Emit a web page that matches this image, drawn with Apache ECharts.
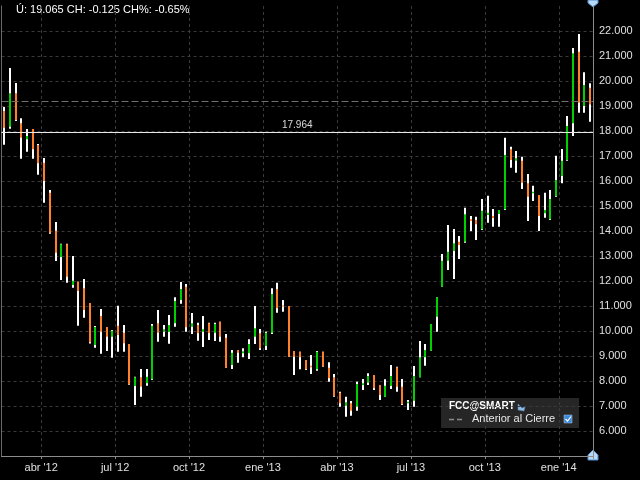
<!DOCTYPE html>
<html>
<head>
<meta charset="utf-8">
<script src="https://cdn.jsdelivr.net/npm/echarts@6/dist/echarts.min.js"></script>
<style>
html,body{margin:0;padding:0;background:#000;}
#c{width:640px;height:480px;}
</style>
</head>
<body>
<div id="c"></div>
<script>
// Weekly bars (week ending Friday)
var dates = [
'2012-02-17','2012-02-24','2012-03-02','2012-03-09','2012-03-16','2012-03-23','2012-03-30',
'2012-04-06','2012-04-13','2012-04-20','2012-04-27','2012-05-04','2012-05-11','2012-05-18','2012-05-25',
'2012-06-01','2012-06-08','2012-06-15','2012-06-22','2012-06-29','2012-07-06','2012-07-13','2012-07-20','2012-07-27',
'2012-08-03','2012-08-10','2012-08-17','2012-08-24','2012-08-31','2012-09-07','2012-09-14','2012-09-21','2012-09-28',
'2012-10-05','2012-10-12','2012-10-19','2012-10-26','2012-11-02','2012-11-09','2012-11-16','2012-11-23','2012-11-30',
'2012-12-07','2012-12-14','2012-12-21','2012-12-28','2013-01-04','2013-01-11','2013-01-18','2013-01-25',
'2013-02-01','2013-02-08','2013-02-15','2013-02-22','2013-03-01','2013-03-08','2013-03-15','2013-03-22','2013-03-29',
'2013-04-05','2013-04-12','2013-04-19','2013-04-26','2013-05-03','2013-05-10','2013-05-17','2013-05-24','2013-05-31',
'2013-06-07','2013-06-14','2013-06-21','2013-06-28','2013-07-05','2013-07-12','2013-07-19','2013-07-26',
'2013-08-02','2013-08-09','2013-08-16','2013-08-23','2013-08-30','2013-09-06','2013-09-13','2013-09-20','2013-09-27',
'2013-10-04','2013-10-11','2013-10-18','2013-10-25','2013-11-01','2013-11-08','2013-11-15','2013-11-22','2013-11-29',
'2013-12-06','2013-12-13','2013-12-20','2013-12-27','2014-01-03','2014-01-10','2014-01-17','2014-01-24','2014-01-31',
'2014-02-07'
];
var opens = [18.80,18.17,19.51,18.31,17.67,18.08,17.44,16.73,15.53,14.01,12.96,13.47,11.84,11.97,11.71,11.12,9.44,10.60,10.16,9.77,
10.21,9.93,9.48,7.80,8.15,7.91,8.07,10.31,9.97,9.96,10.31,11.24,11.77,10.17,10.24,9.97,10.31,9.93,10.37,9.73,
8.64,9.24,9.11,9.11,9.77,9.91,9.40,9.93,11.67,11.02,11.00,9.20,9.17,8.84,8.61,8.47,9.17,8.53,8.15,7.53,
7.01,7.11,6.97,7.84,7.93,8.24,7.84,7.37,7.80,8.55,7.77,7.11,7.21,8.15,8.95,9.21,10.57,11.77,12.81,13.20,
13.57,13.57,14.47,14.44,14.07,14.64,14.60,14.68,14.87,17.27,16.81,16.81,15.91,15.51,15.44,14.71,14.47,15.40,16.20,16.84,
18.31,21.17,19.00,19.73];
var highs = [18.96,20.52,19.92,18.51,18.08,18.08,17.48,16.92,15.64,14.36,13.49,13.49,13.00,11.97,12.08,11.12,10.20,10.88,10.16,10.04,
11.01,10.24,9.48,8.17,8.48,8.48,10.28,10.84,10.24,10.64,11.35,11.96,11.88,10.72,10.33,10.60,10.33,10.33,10.37,9.88,
9.24,9.24,9.31,9.67,11.00,10.08,9.97,11.71,11.93,11.24,11.00,9.20,9.17,8.84,9.04,9.20,9.17,8.75,8.28,7.57,
7.37,7.20,7.97,8.08,8.31,8.24,7.84,8.07,8.64,8.57,8.08,7.24,8.60,9.60,9.48,10.28,11.35,13.08,14.24,14.08,
13.80,14.93,14.60,14.57,15.28,15.41,14.88,14.84,17.73,17.37,17.20,16.97,16.28,15.81,15.44,15.53,15.64,17.01,17.28,18.60,
21.32,21.88,20.35,19.91];
var lows = [17.45,18.09,18.40,16.89,17.17,16.89,16.25,15.13,13.89,12.80,12.04,11.93,11.73,10.21,10.53,9.50,9.33,9.09,9.20,8.93,
9.17,9.17,7.85,7.04,7.37,7.81,8.04,9.57,9.77,9.49,10.17,11.09,9.97,9.88,9.61,9.36,9.64,9.60,9.57,8.53,
8.48,8.73,8.95,8.88,9.48,9.24,9.24,9.88,10.73,10.77,8.97,8.24,8.47,8.44,8.28,8.41,8.57,7.97,7.37,6.97,
6.57,6.61,6.81,7.64,7.84,7.64,7.24,7.37,7.68,7.57,7.04,6.84,6.97,8.15,8.61,9.21,9.97,11.77,12.44,12.08,
12.88,13.53,14.00,13.64,14.04,14.33,14.17,14.17,14.84,16.53,16.33,15.68,14.40,15.20,14.00,14.53,14.44,15.37,15.91,16.81,
17.80,18.73,18.73,18.37];
var closes = [18.13,19.51,18.44,17.73,17.80,17.27,16.71,16.00,13.93,13.13,13.47,12.17,12.01,11.60,10.84,9.55,10.16,9.97,9.77,10.01,
9.84,9.51,7.87,8.15,7.77,8.17,10.21,9.93,10.07,10.24,11.20,11.68,10.15,10.31,9.91,10.07,9.91,10.28,9.77,8.53,
9.13,9.13,9.19,9.48,10.11,9.31,9.93,11.48,10.91,10.98,8.97,8.97,8.95,8.47,8.55,9.17,8.57,8.11,7.40,7.11,
7.15,6.81,7.88,7.91,8.20,7.71,7.44,7.81,8.20,7.77,7.07,7.17,8.20,8.95,9.24,10.28,11.35,12.81,13.17,13.51,
13.44,14.67,14.40,14.27,14.81,14.73,14.52,14.84,17.04,16.84,16.91,15.93,15.37,15.57,14.60,14.84,15.28,16.04,16.81,18.20,
21.11,19.13,19.84,19.065];
var prevClose = 19.19;
var levelLine = 17.964;
var headerText = 'Ú: 19.065 CH: -0.125 CH%: -0.65%';
var monthNames = ['ene','feb','mar','abr','may','jun','jul','ago','sep','oct','nov','dic'];
var symbolName = 'FCC@SMART';
var legendName = 'Anterior al Cierre';

function monthOf(i){ return parseInt(dates[i].substr(5,2),10)-1; }
function isQuarterStart(i){
  if (i <= 0) return false;
  var m = monthOf(i);
  return m !== monthOf(i-1) && m % 3 === 0;
}

var seriesData = dates.map(function(d,i){ return [i, opens[i], closes[i], lows[i], highs[i]]; });

var chart = echarts.init(document.getElementById('c'), null, {renderer:'canvas'});
var gridColor = '#3a3a3a';
chart.setOption({
  backgroundColor: '#000',
  animation: false,
  grid: {left: 1.5, right: 47, top: 6, bottom: 24, containLabel: false},
  xAxis: {
    type: 'category',
    data: dates,
    boundaryGap: true,
    axisLine: {show: true, lineStyle: {color: '#8c8c8c', width: 1}},
    axisTick: {show: true, length: 3, interval: function(i){ return isQuarterStart(i); }, lineStyle: {color: '#8c8c8c'}},
    axisLabel: {
      show: true,
      interval: function(i){ return isQuarterStart(i); },
      formatter: function(v){ var m = parseInt(v.substr(5,2),10)-1; return monthNames[m] + " '" + v.substr(2,2); },
      color: '#e0e0e0', fontSize: 11, fontFamily: 'Liberation Sans, Arial, sans-serif',
      margin: 6, padding: [0, 6, 0, 0]
    },
    splitLine: {show: true, interval: function(i){ return isQuarterStart(i); }, lineStyle: {color: gridColor, type: [3,3], width: 1}}
  },
  yAxis: [{
    type: 'value',
    position: 'right',
    min: 5, max: 23, interval: 1,
    axisLine: {show: true, lineStyle: {color: '#8c8c8c', width: 1}},
    axisTick: {show: false},
    axisLabel: {
      color: '#e0e0e0', fontSize: 11, fontFamily: 'Liberation Sans, Arial, sans-serif', margin: 6,
      formatter: function(v){ return (v < 6 || v > 22) ? '' : v.toFixed(3); }
    },
    splitLine: {show: true, showMaxLine: false, lineStyle: {color: gridColor, type: [3,3], width: 1}}
  },{
    type: 'value',
    position: 'left',
    min: 5, max: 23,
    axisLine: {show: true, onZero: false, lineStyle: {color: '#6a6a6a', width: 1}},
    axisTick: {show: false},
    axisLabel: {show: false},
    splitLine: {show: false}
  }],
  series: [{
    type: 'custom',
    yAxisIndex: 0,
    data: seriesData,
    encode: {x: 0, y: [1,2,3,4]},
    renderItem: function(params, api){
      var i = api.value(0);
      var po = api.coord([i, api.value(1)]);
      var pc = api.coord([i, api.value(2)]);
      var pl = api.coord([i, api.value(3)]);
      var ph = api.coord([i, api.value(4)]);
      var up = api.value(2) >= api.value(1);
      var cx = Math.round(po[0]);
      var top = Math.min(po[1], pc[1]);
      var h = Math.max(Math.abs(pc[1] - po[1]), 1);
      return {type: 'group', children: [
        {type: 'rect', shape: {x: cx - 1, y: ph[1], width: 2, height: pl[1] - ph[1]}, style: {fill: '#ffffff'}},
        {type: 'rect', shape: {x: cx - 1, y: top, width: 2, height: h}, style: {fill: up ? '#00d000' : '#ff8028'}}
      ]};
    },
    markLine: {
      symbol: 'none', silent: true, animation: false,
      data: [
        {yAxis: prevClose, lineStyle: {type: [7,3], color: '#6e6e6e', width: 1}, label: {show: false}},
        {yAxis: levelLine, lineStyle: {type: 'solid', color: '#e8e8e8', width: 1},
         label: {show: true, position: 'insideMiddleTop', formatter: levelLine.toFixed(3), color: '#dcdcdc', fontSize: 10, fontFamily: 'Liberation Sans, Arial, sans-serif', distance: 2}}
      ]
    }
  }],
  graphic: [
    {type: 'text', left: 16, top: 4, style: {text: headerText, fill: '#ffffff', font: '11px "Liberation Sans", Arial, sans-serif'}},
    // extend right axis line to the top edge
    {type: 'line', shape: {x1: 593.5, y1: 0, x2: 593.5, y2: 6}, style: {stroke: '#8c8c8c', lineWidth: 1}},
    // top/bottom axis handles
    {type: 'polygon', shape: {points: [[588,0],[598,0],[598,3],[593,7],[588,3]]}, style: {fill: '#b8d8f4', stroke: '#4a8ed6', lineWidth: 1}},
    {type: 'polygon', shape: {points: [[588,460],[598,460],[598,455],[593,450],[588,455]]}, style: {fill: '#b8d8f4', stroke: '#4a8ed6', lineWidth: 1}},
    // legend box
    {type: 'group', left: 441, top: 398, children: [
      {type: 'rect', shape: {x: 0, y: 0, width: 138, height: 30}, style: {fill: '#262626'}},
      {type: 'text', x: 8, y: 3, style: {text: symbolName, fill: '#ffffff', font: 'bold 10px "Liberation Sans", Arial, sans-serif'}},
      {type: 'polygon', shape: {points: [[77,6],[81,10],[84,9],[83,13],[77,12]]}, style: {fill: '#8fb8e0', stroke: '#5a8ccc', lineWidth: 0.5}},
      {type: 'line', shape: {x1: 8, y1: 21.5, x2: 21, y2: 21.5}, style: {stroke: '#8a8a8a', lineWidth: 1.5, lineDash: [5,3]}},
      {type: 'text', x: 31, y: 15.5, style: {text: legendName, fill: '#e8e8e8', font: '11px "Liberation Sans", Arial, sans-serif'}},
      {type: 'rect', shape: {x: 123, y: 17, width: 8, height: 8}, style: {fill: '#3d86d8', stroke: '#a9c9ee', lineWidth: 0.5}},
      {type: 'polyline', shape: {points: [[124.5,21],[126.5,23],[130,18.5]]}, style: {stroke: '#ffffff', lineWidth: 1.2, fill: null}}
    ]}
  ]
});
</script>
</body>
</html>
